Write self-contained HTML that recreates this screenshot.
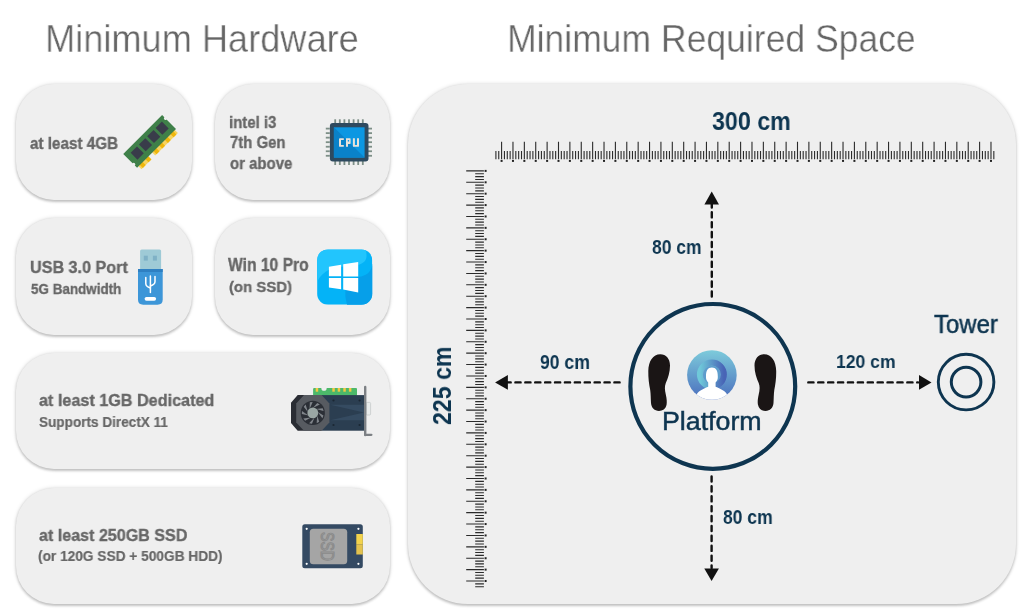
<!DOCTYPE html>
<html><head><meta charset="utf-8"><style>
*{margin:0;padding:0;box-sizing:border-box}
html,body{width:1030px;height:615px;overflow:hidden;background:#fff}
body{position:relative;font-family:"Liberation Sans",sans-serif}
.card{position:absolute;background:#efefef;border-radius:38px;box-shadow:0 1.5px 2.5px rgba(0,0,0,0.2),0 0 4px rgba(0,0,0,0.13)}
.panel{border-radius:60px}
.tx{position:absolute;white-space:nowrap;line-height:1;transform-origin:0 0;will-change:transform}
svg.ov{position:absolute;left:0;top:0}
</style></head>
<body>

<div class="card" style="left:16.3px;top:83.7px;width:175.7px;height:116.2px"></div>
<div class="card" style="left:214.6px;top:83.7px;width:175.6px;height:116.2px"></div>
<div class="card" style="left:16.3px;top:218.4px;width:175.7px;height:116.2px"></div>
<div class="card" style="left:214.6px;top:218.4px;width:175.6px;height:116.2px"></div>
<div class="card" style="left:16.3px;top:353.2px;width:373.9px;height:116.2px"></div>
<div class="card" style="left:16.3px;top:487.8px;width:373.9px;height:116.2px"></div>
<div class="card panel" style="left:408.3px;top:84px;width:608px;height:519.8px"></div>
<svg class="ov" width="1030" height="615" viewBox="0 0 1030 615">
<g transform="translate(149.6,141.4) rotate(-45)"><rect x="-25.5" y="9" width="14.2" height="5" fill="#f7d35e"/><rect x="-23.50" y="9" width="4.00" height="5" fill="#efb70c"/><rect x="-15.50" y="9" width="4.00" height="5" fill="#efb70c"/><rect x="-6.1" y="9" width="32.1" height="5" fill="#f7d35e"/><rect x="-4.10" y="9" width="4.00" height="5" fill="#efb70c"/><rect x="3.90" y="9" width="4.00" height="5" fill="#efb70c"/><rect x="11.90" y="9" width="4.00" height="5" fill="#efb70c"/><rect x="19.90" y="9" width="4.00" height="5" fill="#efb70c"/><rect x="-27.5" y="-9.8" width="55" height="19.6" fill="#3f8049"/><circle cx="-27.5" cy="5" r="1.6" fill="#efefef"/><circle cx="27.5" cy="-5" r="1.6" fill="#efefef"/><rect x="-21.5" y="-5.3" width="9" height="9.6" fill="#393c4a"/><rect x="-9.8" y="-5.3" width="9" height="9.6" fill="#393c4a"/><rect x="1.9000000000000004" y="-5.3" width="9" height="9.6" fill="#393c4a"/><rect x="13.7" y="-5.3" width="9" height="9.6" fill="#393c4a"/></g><rect x="334.30" y="119.3" width="1.8" height="4" fill="#7d8f87"/><rect x="334.30" y="161" width="1.8" height="4" fill="#7d8f87"/><rect x="325.8" y="127.70" width="4" height="1.8" fill="#7d8f87"/><rect x="368" y="127.70" width="4" height="1.8" fill="#7d8f87"/><rect x="338.90" y="119.3" width="1.8" height="4" fill="#7d8f87"/><rect x="338.90" y="161" width="1.8" height="4" fill="#7d8f87"/><rect x="325.8" y="132.23" width="4" height="1.8" fill="#7d8f87"/><rect x="368" y="132.23" width="4" height="1.8" fill="#7d8f87"/><rect x="343.50" y="119.3" width="1.8" height="4" fill="#7d8f87"/><rect x="343.50" y="161" width="1.8" height="4" fill="#7d8f87"/><rect x="325.8" y="136.76" width="4" height="1.8" fill="#7d8f87"/><rect x="368" y="136.76" width="4" height="1.8" fill="#7d8f87"/><rect x="348.10" y="119.3" width="1.8" height="4" fill="#7d8f87"/><rect x="348.10" y="161" width="1.8" height="4" fill="#7d8f87"/><rect x="325.8" y="141.29" width="4" height="1.8" fill="#7d8f87"/><rect x="368" y="141.29" width="4" height="1.8" fill="#7d8f87"/><rect x="352.70" y="119.3" width="1.8" height="4" fill="#7d8f87"/><rect x="352.70" y="161" width="1.8" height="4" fill="#7d8f87"/><rect x="325.8" y="145.82" width="4" height="1.8" fill="#7d8f87"/><rect x="368" y="145.82" width="4" height="1.8" fill="#7d8f87"/><rect x="357.30" y="119.3" width="1.8" height="4" fill="#7d8f87"/><rect x="357.30" y="161" width="1.8" height="4" fill="#7d8f87"/><rect x="325.8" y="150.35" width="4" height="1.8" fill="#7d8f87"/><rect x="368" y="150.35" width="4" height="1.8" fill="#7d8f87"/><rect x="361.90" y="119.3" width="1.8" height="4" fill="#7d8f87"/><rect x="361.90" y="161" width="1.8" height="4" fill="#7d8f87"/><rect x="325.8" y="154.88" width="4" height="1.8" fill="#7d8f87"/><rect x="368" y="154.88" width="4" height="1.8" fill="#7d8f87"/><rect x="329.9" y="122.9" width="38.6" height="38.6" rx="3" fill="#2e4a5f"/><rect x="333.9" y="127.3" width="30.7" height="30.3" fill="#0c97e2"/><path d="M333.9 127.3 L364.6 157.6 L333.9 157.6 Z" fill="#0a82c9"/><g fill="#e9e2da"><path d="M339.9 138.2 H343.8 V140.1 H341 V144.9 H343.8 V146.8 H339.9 Q339 146.8 339 145.9 V139.1 Q339 138.2 339.9 138.2 Z"/><path d="M346 138.2 H350 Q350.6 138.2 350.6 138.8 V143.3 Q350.6 143.9 350 143.9 H348 V146.8 H346 Z M347.8 139.9 V141.5 H349.1 V139.9 Z" fill-rule="evenodd"/><path d="M352.9 138.2 H354.9 V144.9 H357 V138.2 H359 V145.9 Q359 146.8 358.1 146.8 H353.8 Q352.9 146.8 352.9 145.9 Z"/></g><rect x="140.1" y="249.6" width="21" height="21" rx="1.5" fill="#9ecad6"/><rect x="143.8" y="255.7" width="4" height="4.9" fill="#7fb1c6"/><rect x="152.9" y="255.7" width="4" height="4.9" fill="#7fb1c6"/><path d="M138 269 H162.7 V299.5 Q162.7 304.7 157.5 304.7 H143.2 Q138 304.7 138 299.5 Z" fill="#3d96d8"/><rect x="138" y="269" width="24.7" height="3" fill="#2f80c2"/><g stroke="#fff" stroke-width="1.5" fill="none" stroke-linecap="round"><path d="M150.4 276 V292.5"/><path d="M145.8 277.5 V283.5 Q145.8 286.5 150.4 288"/><path d="M155 276.5 V281.5 Q155 284.5 150.4 286"/></g><rect x="144.6" y="297" width="11.5" height="3.7" rx="1.85" fill="#fff"/><defs><clipPath id="wc"><rect x="317.1" y="249.4" width="55.2" height="55.3" rx="11"/></clipPath></defs><g clip-path="url(#wc)"><rect x="317.1" y="249.4" width="55.2" height="55.3" fill="#04b3f7"/><path d="M310 240 H362 C367 250 368 258 364.5 261.5 C361.5 264.5 358 265 354 265.5 C342 266.5 332 267 326 271.5 C321 275 318 279 317.1 283.1 H310 Z" fill="#22c5fd"/><path d="M372.5 264 C371.8 269.5 369 273 365.7 274.8 C362 276.5 360 276.8 357.9 277.2 C352 278.5 348 282 346.5 287 C345 291 345 296 346 300 C346.5 302 347 304 347.2 306 H380 V264 Z" fill="#069fe9"/></g><g fill="#fff"><path d="M328.9 266.7 L341.1 264.7 V276.3 H328.9 Z"/><path d="M343.2 264.3 L358.2 261.9 V276.4 H343.2 Z"/><path d="M328.9 278.1 H341.1 V289.2 L328.9 287.5 Z"/><path d="M343.2 278.1 H358.2 V292.6 L343.2 289.6 Z"/></g><rect x="313.1" y="388" width="43.9" height="8" rx="1" fill="#4cb96a"/><circle cx="324" cy="388.2" r="2.6" fill="#efefef"/><rect x="315.7" y="388" width="2.5" height="3.7" fill="#f3c843"/><rect x="332.3" y="388" width="2.5" height="3.7" fill="#f3c843"/><rect x="337.7" y="388" width="2.5" height="3.7" fill="#f3c843"/><rect x="343.3" y="388" width="2.5" height="3.7" fill="#f3c843"/><rect x="348.9" y="388" width="2.5" height="3.7" fill="#f3c843"/><rect x="321.6" y="395.1" width="42.6" height="35.6" fill="#2b3e51"/><path d="M330.2 404.7 H364 V412.5 Z M330.2 420.3 H364 V412.5 Z" fill="#354b61"/><path d="M297.7 395.1 H321.6 V430.7 H297.7 L291 423 V402.8 Z" fill="#2a2d34"/><polygon points="304,395.1 321.6,395.1 329.4,403.4 329.4,422.4 321.6,430.7 304,430.7 296.2,422.4 296.2,403.4" fill="#575b61"/><circle cx="312.8" cy="412.9" r="12.1" fill="#2b2f36"/><path transform="translate(312.8,412.9) rotate(0)" d="M0 -5 L4.5 -10 L7 -8.5 Z" fill="#80858b"/><path transform="translate(312.8,412.9) rotate(40)" d="M0 -5 L4.5 -10 L7 -8.5 Z" fill="#80858b"/><path transform="translate(312.8,412.9) rotate(80)" d="M0 -5 L4.5 -10 L7 -8.5 Z" fill="#80858b"/><path transform="translate(312.8,412.9) rotate(120)" d="M0 -5 L4.5 -10 L7 -8.5 Z" fill="#80858b"/><path transform="translate(312.8,412.9) rotate(160)" d="M0 -5 L4.5 -10 L7 -8.5 Z" fill="#80858b"/><path transform="translate(312.8,412.9) rotate(200)" d="M0 -5 L4.5 -10 L7 -8.5 Z" fill="#80858b"/><path transform="translate(312.8,412.9) rotate(240)" d="M0 -5 L4.5 -10 L7 -8.5 Z" fill="#80858b"/><path transform="translate(312.8,412.9) rotate(280)" d="M0 -5 L4.5 -10 L7 -8.5 Z" fill="#80858b"/><path transform="translate(312.8,412.9) rotate(320)" d="M0 -5 L4.5 -10 L7 -8.5 Z" fill="#80858b"/><circle cx="312.8" cy="412.9" r="5.4" fill="#9aa6a4"/><circle cx="333.5" cy="400.5" r="1.1" fill="#1b2733"/><circle cx="359.6" cy="400.5" r="1.1" fill="#1b2733"/><circle cx="333.5" cy="425" r="1.1" fill="#1b2733"/><circle cx="359.6" cy="425" r="1.1" fill="#1b2733"/><rect x="366.2" y="402.4" width="4.4" height="12.6" rx="1" fill="#e9ecec" stroke="#c5caca" stroke-width="0.8"/><path d="M365.2 387 V435" stroke="#7c8084" stroke-width="2.4" stroke-linecap="round"/><path d="M365.2 434.8 H371.4" stroke="#7c8084" stroke-width="2.2" stroke-linecap="round"/><rect x="302.3" y="524.3" width="60.5" height="43.9" rx="2.5" fill="#344a63"/><rect x="356.3" y="534" width="6.5" height="10.3" fill="#f3d34c"/><rect x="356.3" y="544.3" width="6.5" height="10.2" fill="#e3c24e"/><rect x="309.8" y="528.7" width="37.4" height="35.6" rx="3.5" fill="#a5a5a5"/><circle cx="306.7" cy="528.8" r="1.1" fill="#ffffff"/><circle cx="358.4" cy="528.8" r="1.1" fill="#ffffff"/><circle cx="306.7" cy="563.8" r="1.1" fill="#ffffff"/><circle cx="358.4" cy="563.8" r="1.1" fill="#ffffff"/><text transform="translate(321.4,532) rotate(90)" x="0" y="0" font-family="Liberation Sans" font-size="18.5" fill="none" stroke="#8a8a8a" stroke-width="1.1" textLength="29" lengthAdjust="spacingAndGlyphs" dominant-baseline="alphabetic">SSD</text>
<path d="M495.90 150.9V159.2M498.75 150.9V159.2M501.59 141.8V159.2M504.44 150.9V159.2M507.28 150.9V159.2M510.13 150.9V159.2M512.97 141.8V159.2M515.82 150.9V159.2M518.66 150.9V159.2M521.51 150.9V159.2M524.35 141.8V159.2M527.20 150.9V159.2M530.04 150.9V159.2M532.89 150.9V159.2M535.73 141.8V159.2M538.58 150.9V159.2M541.42 150.9V159.2M544.27 150.9V159.2M547.12 141.8V159.2M549.96 150.9V159.2M552.81 150.9V159.2M555.65 150.9V159.2M558.50 141.8V159.2M561.34 150.9V159.2M564.19 150.9V159.2M567.03 150.9V159.2M569.88 141.8V159.2M572.72 150.9V159.2M575.57 150.9V159.2M578.41 150.9V159.2M581.26 141.8V159.2M584.10 150.9V159.2M586.95 150.9V159.2M589.79 150.9V159.2M592.64 141.8V159.2M595.49 150.9V159.2M598.33 150.9V159.2M601.18 150.9V159.2M604.02 141.8V159.2M606.87 150.9V159.2M609.71 150.9V159.2M612.56 150.9V159.2M615.40 141.8V159.2M618.25 150.9V159.2M621.09 150.9V159.2M623.94 150.9V159.2M626.78 141.8V159.2M629.63 150.9V159.2M632.47 150.9V159.2M635.32 150.9V159.2M638.16 141.8V159.2M641.01 150.9V159.2M643.86 150.9V159.2M646.70 150.9V159.2M649.55 141.8V159.2M652.39 150.9V159.2M655.24 150.9V159.2M658.08 150.9V159.2M660.93 141.8V159.2M663.77 150.9V159.2M666.62 150.9V159.2M669.46 150.9V159.2M672.31 141.8V159.2M675.15 150.9V159.2M678.00 150.9V159.2M680.84 150.9V159.2M683.69 141.8V159.2M686.54 150.9V159.2M689.38 150.9V159.2M692.23 150.9V159.2M695.07 141.8V159.2M697.92 150.9V159.2M700.76 150.9V159.2M703.61 150.9V159.2M706.45 141.8V159.2M709.30 150.9V159.2M712.14 150.9V159.2M714.99 150.9V159.2M717.83 141.8V159.2M720.68 150.9V159.2M723.52 150.9V159.2M726.37 150.9V159.2M729.21 141.8V159.2M732.06 150.9V159.2M734.91 150.9V159.2M737.75 150.9V159.2M740.60 141.8V159.2M743.44 150.9V159.2M746.29 150.9V159.2M749.13 150.9V159.2M751.98 141.8V159.2M754.82 150.9V159.2M757.67 150.9V159.2M760.51 150.9V159.2M763.36 141.8V159.2M766.20 150.9V159.2M769.05 150.9V159.2M771.89 150.9V159.2M774.74 141.8V159.2M777.58 150.9V159.2M780.43 150.9V159.2M783.28 150.9V159.2M786.12 141.8V159.2M788.97 150.9V159.2M791.81 150.9V159.2M794.66 150.9V159.2M797.50 141.8V159.2M800.35 150.9V159.2M803.19 150.9V159.2M806.04 150.9V159.2M808.88 141.8V159.2M811.73 150.9V159.2M814.57 150.9V159.2M817.42 150.9V159.2M820.26 141.8V159.2M823.11 150.9V159.2M825.95 150.9V159.2M828.80 150.9V159.2M831.65 141.8V159.2M834.49 150.9V159.2M837.34 150.9V159.2M840.18 150.9V159.2M843.03 141.8V159.2M845.87 150.9V159.2M848.72 150.9V159.2M851.56 150.9V159.2M854.41 141.8V159.2M857.25 150.9V159.2M860.10 150.9V159.2M862.94 150.9V159.2M865.79 141.8V159.2M868.63 150.9V159.2M871.48 150.9V159.2M874.32 150.9V159.2M877.17 141.8V159.2M880.02 150.9V159.2M882.86 150.9V159.2M885.71 150.9V159.2M888.55 141.8V159.2M891.40 150.9V159.2M894.24 150.9V159.2M897.09 150.9V159.2M899.93 141.8V159.2M902.78 150.9V159.2M905.62 150.9V159.2M908.47 150.9V159.2M911.31 141.8V159.2M914.16 150.9V159.2M917.00 150.9V159.2M919.85 150.9V159.2M922.69 141.8V159.2M925.54 150.9V159.2M928.39 150.9V159.2M931.23 150.9V159.2M934.08 141.8V159.2M936.92 150.9V159.2M939.77 150.9V159.2M942.61 150.9V159.2M945.46 141.8V159.2M948.30 150.9V159.2M951.15 150.9V159.2M953.99 150.9V159.2M956.84 141.8V159.2M959.68 150.9V159.2M962.53 150.9V159.2M965.37 150.9V159.2M968.22 141.8V159.2M971.07 150.9V159.2M973.91 150.9V159.2M976.76 150.9V159.2M979.60 141.8V159.2M982.45 150.9V159.2M985.29 150.9V159.2M988.14 150.9V159.2M990.98 141.8V159.2M993.83 150.9V159.2M466.2 170.90H483.9M475.2 173.75H483.9M475.2 176.60H483.9M475.2 179.44H483.9M466.2 182.29H483.9M475.2 185.14H483.9M475.2 187.99H483.9M475.2 190.84H483.9M466.2 193.68H483.9M475.2 196.53H483.9M475.2 199.38H483.9M475.2 202.23H483.9M466.2 205.08H483.9M475.2 207.92H483.9M475.2 210.77H483.9M475.2 213.62H483.9M466.2 216.47H483.9M475.2 219.32H483.9M475.2 222.16H483.9M475.2 225.01H483.9M466.2 227.86H483.9M475.2 230.71H483.9M475.2 233.56H483.9M475.2 236.40H483.9M466.2 239.25H483.9M475.2 242.10H483.9M475.2 244.95H483.9M475.2 247.80H483.9M466.2 250.64H483.9M475.2 253.49H483.9M475.2 256.34H483.9M475.2 259.19H483.9M466.2 262.04H483.9M475.2 264.88H483.9M475.2 267.73H483.9M475.2 270.58H483.9M466.2 273.43H483.9M475.2 276.28H483.9M475.2 279.12H483.9M475.2 281.97H483.9M466.2 284.82H483.9M475.2 287.67H483.9M475.2 290.52H483.9M475.2 293.36H483.9M466.2 296.21H483.9M475.2 299.06H483.9M475.2 301.91H483.9M475.2 304.76H483.9M466.2 307.60H483.9M475.2 310.45H483.9M475.2 313.30H483.9M475.2 316.15H483.9M466.2 319.00H483.9M475.2 321.84H483.9M475.2 324.69H483.9M475.2 327.54H483.9M466.2 330.39H483.9M475.2 333.24H483.9M475.2 336.08H483.9M475.2 338.93H483.9M466.2 341.78H483.9M475.2 344.63H483.9M475.2 347.48H483.9M475.2 350.32H483.9M466.2 353.17H483.9M475.2 356.02H483.9M475.2 358.87H483.9M475.2 361.72H483.9M466.2 364.56H483.9M475.2 367.41H483.9M475.2 370.26H483.9M475.2 373.11H483.9M466.2 375.96H483.9M475.2 378.80H483.9M475.2 381.65H483.9M475.2 384.50H483.9M466.2 387.35H483.9M475.2 390.20H483.9M475.2 393.04H483.9M475.2 395.89H483.9M466.2 398.74H483.9M475.2 401.59H483.9M475.2 404.44H483.9M475.2 407.28H483.9M466.2 410.13H483.9M475.2 412.98H483.9M475.2 415.83H483.9M475.2 418.68H483.9M466.2 421.52H483.9M475.2 424.37H483.9M475.2 427.22H483.9M475.2 430.07H483.9M466.2 432.92H483.9M475.2 435.76H483.9M475.2 438.61H483.9M475.2 441.46H483.9M466.2 444.31H483.9M475.2 447.16H483.9M475.2 450.00H483.9M475.2 452.85H483.9M466.2 455.70H483.9M475.2 458.55H483.9M475.2 461.40H483.9M475.2 464.24H483.9M466.2 467.09H483.9M475.2 469.94H483.9M475.2 472.79H483.9M475.2 475.64H483.9M466.2 478.48H483.9M475.2 481.33H483.9M475.2 484.18H483.9M475.2 487.03H483.9M466.2 489.88H483.9M475.2 492.72H483.9M475.2 495.57H483.9M475.2 498.42H483.9M466.2 501.27H483.9M475.2 504.12H483.9M475.2 506.96H483.9M475.2 509.81H483.9M466.2 512.66H483.9M475.2 515.51H483.9M475.2 518.36H483.9M475.2 521.20H483.9M466.2 524.05H483.9M475.2 526.90H483.9M475.2 529.75H483.9M475.2 532.60H483.9M466.2 535.44H483.9M475.2 538.29H483.9M475.2 541.14H483.9M475.2 543.99H483.9M466.2 546.84H483.9M475.2 549.68H483.9M475.2 552.53H483.9M475.2 555.38H483.9M466.2 558.23H483.9M475.2 561.08H483.9M475.2 563.92H483.9M475.2 566.77H483.9M466.2 569.62H483.9M475.2 572.47H483.9M475.2 575.32H483.9M475.2 578.16H483.9M466.2 581.01H483.9M475.2 583.86H483.9M475.2 586.71H483.9" stroke="#2b2b2b" stroke-width="1.1" fill="none"/><rect x="500.59" y="159.9" width="2" height="2" fill="#222"/><rect x="511.97" y="159.9" width="2" height="2" fill="#222"/><rect x="523.35" y="159.9" width="2" height="2" fill="#222"/><rect x="534.73" y="159.9" width="2" height="2" fill="#222"/><rect x="546.12" y="159.9" width="2" height="2" fill="#222"/><rect x="557.50" y="159.9" width="2" height="2" fill="#222"/><rect x="568.88" y="159.9" width="2" height="2" fill="#222"/><rect x="580.26" y="159.9" width="2" height="2" fill="#222"/><rect x="591.64" y="159.9" width="2" height="2" fill="#222"/><rect x="603.02" y="159.9" width="2" height="2" fill="#222"/><rect x="614.40" y="159.9" width="2" height="2" fill="#222"/><rect x="625.78" y="159.9" width="2" height="2" fill="#222"/><rect x="637.16" y="159.9" width="2" height="2" fill="#222"/><rect x="648.55" y="159.9" width="2" height="2" fill="#222"/><rect x="659.93" y="159.9" width="2" height="2" fill="#222"/><rect x="671.31" y="159.9" width="2" height="2" fill="#222"/><rect x="682.69" y="159.9" width="2" height="2" fill="#222"/><rect x="694.07" y="159.9" width="2" height="2" fill="#222"/><rect x="705.45" y="159.9" width="2" height="2" fill="#222"/><rect x="716.83" y="159.9" width="2" height="2" fill="#222"/><rect x="728.21" y="159.9" width="2" height="2" fill="#222"/><rect x="739.60" y="159.9" width="2" height="2" fill="#222"/><rect x="750.98" y="159.9" width="2" height="2" fill="#222"/><rect x="762.36" y="159.9" width="2" height="2" fill="#222"/><rect x="773.74" y="159.9" width="2" height="2" fill="#222"/><rect x="785.12" y="159.9" width="2" height="2" fill="#222"/><rect x="796.50" y="159.9" width="2" height="2" fill="#222"/><rect x="807.88" y="159.9" width="2" height="2" fill="#222"/><rect x="819.26" y="159.9" width="2" height="2" fill="#222"/><rect x="830.65" y="159.9" width="2" height="2" fill="#222"/><rect x="842.03" y="159.9" width="2" height="2" fill="#222"/><rect x="853.41" y="159.9" width="2" height="2" fill="#222"/><rect x="864.79" y="159.9" width="2" height="2" fill="#222"/><rect x="876.17" y="159.9" width="2" height="2" fill="#222"/><rect x="887.55" y="159.9" width="2" height="2" fill="#222"/><rect x="898.93" y="159.9" width="2" height="2" fill="#222"/><rect x="910.31" y="159.9" width="2" height="2" fill="#222"/><rect x="921.69" y="159.9" width="2" height="2" fill="#222"/><rect x="933.08" y="159.9" width="2" height="2" fill="#222"/><rect x="944.46" y="159.9" width="2" height="2" fill="#222"/><rect x="955.84" y="159.9" width="2" height="2" fill="#222"/><rect x="967.22" y="159.9" width="2" height="2" fill="#222"/><rect x="978.60" y="159.9" width="2" height="2" fill="#222"/><rect x="989.98" y="159.9" width="2" height="2" fill="#222"/><rect x="484.6" y="169.90" width="2" height="2" fill="#222"/><rect x="484.6" y="181.29" width="2" height="2" fill="#222"/><rect x="484.6" y="192.68" width="2" height="2" fill="#222"/><rect x="484.6" y="204.08" width="2" height="2" fill="#222"/><rect x="484.6" y="215.47" width="2" height="2" fill="#222"/><rect x="484.6" y="226.86" width="2" height="2" fill="#222"/><rect x="484.6" y="238.25" width="2" height="2" fill="#222"/><rect x="484.6" y="249.64" width="2" height="2" fill="#222"/><rect x="484.6" y="261.04" width="2" height="2" fill="#222"/><rect x="484.6" y="272.43" width="2" height="2" fill="#222"/><rect x="484.6" y="283.82" width="2" height="2" fill="#222"/><rect x="484.6" y="295.21" width="2" height="2" fill="#222"/><rect x="484.6" y="306.60" width="2" height="2" fill="#222"/><rect x="484.6" y="318.00" width="2" height="2" fill="#222"/><rect x="484.6" y="329.39" width="2" height="2" fill="#222"/><rect x="484.6" y="340.78" width="2" height="2" fill="#222"/><rect x="484.6" y="352.17" width="2" height="2" fill="#222"/><rect x="484.6" y="363.56" width="2" height="2" fill="#222"/><rect x="484.6" y="374.96" width="2" height="2" fill="#222"/><rect x="484.6" y="386.35" width="2" height="2" fill="#222"/><rect x="484.6" y="397.74" width="2" height="2" fill="#222"/><rect x="484.6" y="409.13" width="2" height="2" fill="#222"/><rect x="484.6" y="420.52" width="2" height="2" fill="#222"/><rect x="484.6" y="431.92" width="2" height="2" fill="#222"/><rect x="484.6" y="443.31" width="2" height="2" fill="#222"/><rect x="484.6" y="454.70" width="2" height="2" fill="#222"/><rect x="484.6" y="466.09" width="2" height="2" fill="#222"/><rect x="484.6" y="477.48" width="2" height="2" fill="#222"/><rect x="484.6" y="488.88" width="2" height="2" fill="#222"/><rect x="484.6" y="500.27" width="2" height="2" fill="#222"/><rect x="484.6" y="511.66" width="2" height="2" fill="#222"/><rect x="484.6" y="523.05" width="2" height="2" fill="#222"/><rect x="484.6" y="534.44" width="2" height="2" fill="#222"/><rect x="484.6" y="545.84" width="2" height="2" fill="#222"/><rect x="484.6" y="557.23" width="2" height="2" fill="#222"/><rect x="484.6" y="568.62" width="2" height="2" fill="#222"/><rect x="484.6" y="580.01" width="2" height="2" fill="#222"/><path d="M711.8 202.3 V297" stroke="#111" stroke-width="2.4" stroke-dasharray="5.2 4.7" stroke-linecap="round" fill="none"/><path d="M711.7 191.6 L719 204.4 H704.4 Z" fill="#111"/><path d="M711.6 476.4 V568" stroke="#111" stroke-width="2.4" stroke-dasharray="5.2 4.7" stroke-linecap="round" fill="none"/><path d="M711.6 581 L704.3 568.6 H718.9 Z" fill="#111"/><path d="M505.5 382.4 H620" stroke="#111" stroke-width="2.4" stroke-dasharray="5.2 4.7" stroke-linecap="round" fill="none"/><path d="M495.1 382.4 L507.9 375.1 V389.7 Z" fill="#111"/><path d="M808.3 382.4 H918" stroke="#111" stroke-width="2.4" stroke-dasharray="5.2 4.7" stroke-linecap="round" fill="none"/><path d="M931.5 382.4 L919 375.1 V389.7 Z" fill="#111"/><circle cx="712.8" cy="386.4" r="82.4" stroke="#0e3550" stroke-width="4.2" fill="none"/><circle cx="966.1" cy="382.1" r="27.8" stroke="#0e3550" stroke-width="2.9" fill="none"/><circle cx="966.1" cy="382.1" r="14.8" stroke="#0e3550" stroke-width="3" fill="none"/><path d="M660.3 354.2 C666 354.2 670 358.5 670 365.5 C670 372.5 668 378 665.8 383 C664.4 386.5 664.8 390 665.8 394.5 C666.8 399 667 402 666.6 404.5 C665.8 409 662.5 410.9 659 410.9 C654.5 410.9 651.4 408 651 403 C650.7 399 650.8 394 650.2 390 C649 384 648.2 378 648.3 371 C648.5 361 653 354.2 660.3 354.2 Z" fill="#1a1515"/><path d="M660.3 354.2 C666 354.2 670 358.5 670 365.5 C670 372.5 668 378 665.8 383 C664.4 386.5 664.8 390 665.8 394.5 C666.8 399 667 402 666.6 404.5 C665.8 409 662.5 410.9 659 410.9 C654.5 410.9 651.4 408 651 403 C650.7 399 650.8 394 650.2 390 C649 384 648.2 378 648.3 371 C648.5 361 653 354.2 660.3 354.2 Z" fill="#1a1515" transform="translate(1424.5,0) scale(-1,1)"/><defs><linearGradient id="ag" x1="0" y1="0" x2="0" y2="1"><stop offset="0" stop-color="#7dcbdb"/><stop offset="1" stop-color="#4a6dbd"/></linearGradient><linearGradient id="rg" x1="0" y1="0" x2="1" y2="0"><stop offset="0" stop-color="#6fc8d9"/><stop offset="1" stop-color="#4864b6"/></linearGradient><clipPath id="avc"><circle cx="711.9" cy="375" r="24.8"/></clipPath></defs><circle cx="711.9" cy="375" r="24.8" fill="url(#ag)"/><g clip-path="url(#avc)"><circle cx="711.9" cy="374.5" r="12" stroke="url(#rg)" stroke-width="6" fill="none"/><circle cx="711.9" cy="374.5" r="8.5" fill="#5d9ccc"/><path d="M696.5 395.5 C697 391.5 703 389 708.2 386.8 V382.6 C706.6 381.2 706 379.3 706 377.6 C705.8 370.6 707.6 367.6 711.9 367.6 C716.2 367.6 718 370.6 717.8 377.6 C717.8 379.3 717.2 381.2 715.6 382.6 V386.8 C720.8 389 726.8 391.5 727.3 395.5 V402 H696.5 Z" fill="#fff"/></g>
</svg>
<div class="tx" id="tl" style="left:45.46px;top:18.95px;font-size:39.24px;font-weight:400;color:#666666;transform:scaleX(0.9226);-webkit-text-stroke:0.4px #fff">Minimum Hardware</div>
<div class="tx" id="tr" style="left:506.93px;top:20.07px;font-size:38.66px;font-weight:400;color:#666666;transform:scaleX(0.9188);-webkit-text-stroke:0.4px #fff">Minimum Required Space</div>
<div class="tx" id="c1" style="left:30.26px;top:136.09px;font-size:16.7px;font-weight:700;color:#676767;transform:scaleX(0.9122);-webkit-text-stroke:0.35px #676767">at least 4GB</div>
<div class="tx" id="c2a" style="left:228.75px;top:114.7px;font-size:15.87px;font-weight:700;color:#676767;transform:scaleX(0.9407);-webkit-text-stroke:0.35px #676767">intel i3</div>
<div class="tx" id="c2b" style="left:229.62px;top:134.89px;font-size:15.87px;font-weight:700;color:#676767;transform:scaleX(0.9407);-webkit-text-stroke:0.35px #676767">7th Gen</div>
<div class="tx" id="c2c" style="left:229.85px;top:155.69px;font-size:15.87px;font-weight:700;color:#676767;transform:scaleX(0.9431);-webkit-text-stroke:0.35px #676767">or above</div>
<div class="tx" id="c3a" style="left:30.3px;top:259.35px;font-size:17.19px;font-weight:700;color:#676767;transform:scaleX(0.9387);-webkit-text-stroke:0.35px #676767">USB 3.0 Port</div>
<div class="tx" id="c3b" style="left:30.95px;top:281.81px;font-size:14.86px;font-weight:700;color:#676767;transform:scaleX(0.9048);-webkit-text-stroke:0.35px #676767">5G Bandwidth</div>
<div class="tx" id="c4a" style="left:228.31px;top:256.9px;font-size:17.44px;font-weight:700;color:#676767;transform:scaleX(0.8969);-webkit-text-stroke:0.35px #676767">Win 10 Pro</div>
<div class="tx" id="c4b" style="left:228.82px;top:278.91px;font-size:15.29px;font-weight:700;color:#676767;transform:scaleX(0.9754);-webkit-text-stroke:0.35px #676767">(on SSD)</div>
<div class="tx" id="c5a" style="left:38.78px;top:392.53px;font-size:16.84px;font-weight:700;color:#676767;transform:scaleX(0.9613);-webkit-text-stroke:0.35px #676767">at least 1GB Dedicated</div>
<div class="tx" id="c5b" style="left:38.94px;top:414.9px;font-size:14.57px;font-weight:700;color:#676767;transform:scaleX(0.9315);-webkit-text-stroke:0.2px #676767">Supports DirectX 11</div>
<div class="tx" id="c6a" style="left:38.61px;top:527.96px;font-size:16.97px;font-weight:700;color:#676767;transform:scaleX(0.9488);-webkit-text-stroke:0.35px #676767">at least 250GB SSD</div>
<div class="tx" id="c6b" style="left:38.12px;top:549.17px;font-size:14.68px;font-weight:700;color:#676767;transform:scaleX(0.9332);-webkit-text-stroke:0.2px #676767">(or 120G SSD + 500GB HDD)</div>
<div class="tx" id="d300" style="left:712.29px;top:109.31px;font-size:25.79px;font-weight:700;color:#0d3550;transform:scaleX(0.9010);">300 cm</div>
<div class="tx" id="d80a" style="left:651.59px;top:237.82px;font-size:19.63px;font-weight:700;color:#0d3550;transform:scaleX(0.8891);">80 cm</div>
<div class="tx" id="d80b" style="left:723.2px;top:508px;font-size:19.48px;font-weight:700;color:#0d3550;transform:scaleX(0.8982);">80 cm</div>
<div class="tx" id="d90" style="left:539.78px;top:352.8px;font-size:19.48px;font-weight:700;color:#0d3550;transform:scaleX(0.9024);">90 cm</div>
<div class="tx" id="d120" style="left:835.69px;top:352.44px;font-size:19.2px;font-weight:700;color:#0d3550;transform:scaleX(0.9159);">120 cm</div>
<div class="tx" id="plat" style="left:661.68px;top:407.77px;font-size:26.02px;font-weight:400;color:#0e3550;transform:scaleX(1.0289);-webkit-text-stroke:0.5px #0e3550">Platform</div>
<div class="tx" id="tower" style="left:933.5px;top:310.98px;font-size:26.16px;font-weight:400;color:#0e3550;transform:scaleX(0.9163);-webkit-text-stroke:0.5px #0e3550">Tower</div>
<div class="tx" id="d225" style="left:429.85px;top:424.97px;font-size:25.79px;font-weight:700;color:#0d3550;transform:rotate(-90deg) scaleX(0.8975)">225 cm</div>
</body></html>
